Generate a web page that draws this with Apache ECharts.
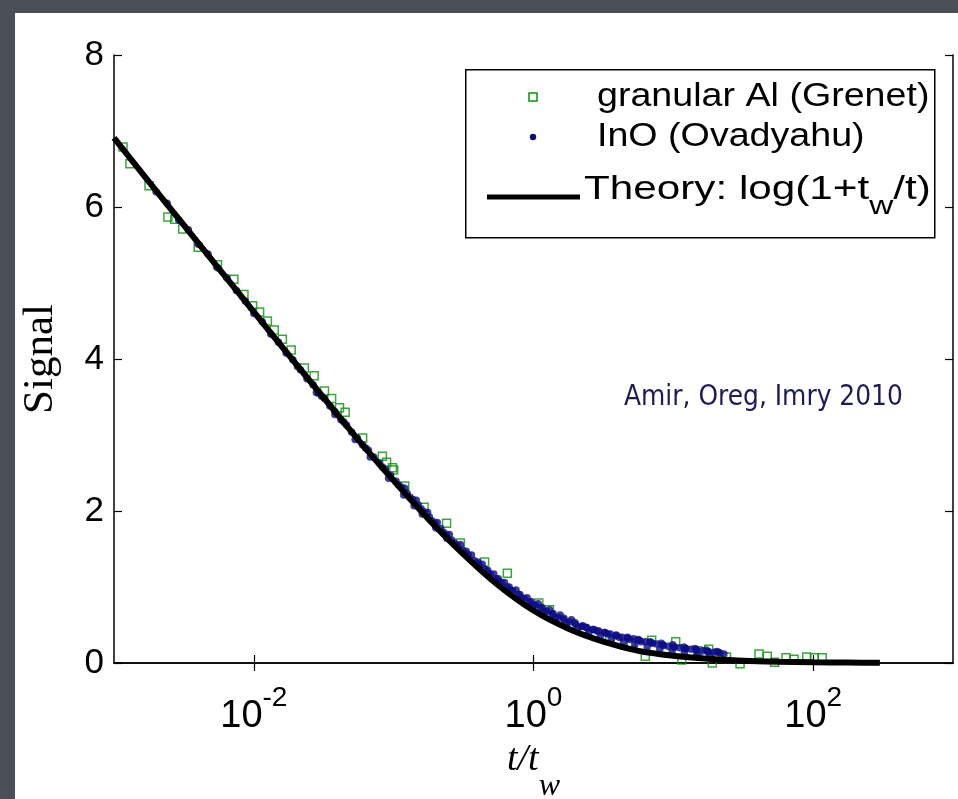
<!DOCTYPE html>
<html><head><meta charset="utf-8">
<script src="https://cdn.jsdelivr.net/npm/echarts@6/dist/echarts.min.js"></script>
<style>
html,body{margin:0;padding:0;width:958px;height:799px;background:#4b5058;overflow:hidden;}
#panel{position:absolute;left:15px;top:13px;width:943px;height:786px;background:#fff;}
#chart{position:absolute;left:0;top:0;width:958px;height:799px;}
</style></head>
<body>
<div id="panel"></div>
<div id="chart"></div>
<script>
// granular Al (Grenet): [t/tw, signal]
const grenetX = [0.00116,0.0013,0.00178,0.00243,0.00272,0.0031,0.004,0.0055,0.0072,0.0085,0.0098,0.011,0.0125,0.014,0.016,0.0185,0.023,0.027,0.032,0.036,0.041,0.045,0.06,0.083,0.089,0.098,0.1,0.12,0.165,0.239,0.3,0.447,0.65,1.09,1.3,2.3,3.5,5.0,6.3,7.0,10.4,11.5,15,17.9,19,24,30,41,47,53,64,73,90,102,116];
const grenetY = [6.79,6.57,6.28,5.87,5.84,5.71,5.47,5.24,5.05,4.85,4.70,4.62,4.50,4.38,4.26,4.12,3.88,3.78,3.58,3.48,3.36,3.30,2.96,2.72,2.64,2.57,2.54,2.33,2.05,1.84,1.58,1.33,1.18,0.79,0.70,0.45,0.32,0.26,0.09,0.30,0.28,0.04,0.16,0.18,0.00,0.08,-0.01,0.12,0.09,0.01,0.07,0.05,0.08,0.07,0.07];
// InO (Ovadyahu)
const ovadX = [0.002,0.0024,0.0029,0.0034,0.004,0.0047,0.0055,0.0064,0.0075,0.0087,0.01,0.0115,0.0132,0.015,0.017,0.019,0.0215,0.024,0.0265,0.029,0.032,0.035,0.038,0.042,0.046,0.05,0.055,0.06,0.066,0.072,0.079,0.087,0.095,0.104,0.114,0.125,0.137,0.15,0.165,0.18,0.198,0.217,0.238,0.26,0.285,0.312,0.342,0.375,0.41,0.45,0.49,0.54,0.59,0.65,0.71,0.78,0.86,0.94,1.03,1.13,1.24,1.36,1.5,1.65,1.81,2.0,2.2,2.42,2.66,2.93,3.22,3.54,3.9,4.3,4.7,5.2,5.7,6.3,6.9,7.6,8.4,9.2,10.1,11.1,12.2,13.4,14.7,16.2,17.8,19.6,21.5,
 0.0205,0.0305,0.044,0.063,0.083,0.109,0.131,0.157,0.189,0.227,0.272,0.327,0.393,0.47,0.565,0.68,0.82,0.99,1.19,1.43,1.72,2.07,2.49,3.0,3.6,4.4,5.3,6.5,8.0,9.8,12.0,14.8,18.2,
 0.12,0.145,0.175,0.205,0.25,0.30,0.36,0.43,0.52,0.62,0.75,0.90,1.08,1.30,1.55,1.87,2.25,2.7,3.25,3.9,4.7,5.6,6.8,8.2,9.9,11.9,14.3,17.2,20.5,23.0,
 0.028,0.038,0.053,0.068,0.092,0.118,0.14,0.16,0.2,0.24,
 0.33,0.40,0.47,0.56,0.67,0.80,0.96,1.15,1.38,1.65,1.98,2.37,2.85,3.4,4.1,4.9,5.9,7.1,8.5,10.2,12.3,14.7,17.6,21.0];
const ovadY = [6.20,6.05,5.83,5.70,5.51,5.38,5.20,5.07,4.90,4.76,4.60,4.49,4.33,4.22,4.08,3.99,3.86,3.74,3.66,3.55,3.48,3.38,3.31,3.20,3.13,3.04,2.96,2.87,2.80,2.71,2.63,2.55,2.47,2.39,2.31,2.23,2.15,2.08,1.99,1.92,1.84,1.77,1.69,1.62,1.55,1.48,1.42,1.35,1.29,1.23,1.17,1.11,1.06,1.00,0.95,0.90,0.85,0.80,0.76,0.72,0.68,0.64,0.60,0.57,0.54,0.51,0.48,0.46,0.44,0.42,0.40,0.38,0.36,0.34,0.33,0.32,0.30,0.28,0.27,0.25,0.24,0.22,0.21,0.20,0.19,0.18,0.17,0.16,0.15,0.14,0.13,
 3.90,3.51,3.17,2.83,2.58,2.34,2.18,2.03,1.87,1.72,1.58,1.44,1.31,1.19,1.07,0.96,0.86,0.76,0.67,0.59,0.52,0.46,0.40,0.35,0.31,0.27,0.24,0.21,0.18,0.16,0.14,0.12,0.11,
 2.30,2.14,1.98,1.85,1.69,1.56,1.42,1.30,1.17,1.06,0.96,0.86,0.78,0.70,0.63,0.57,0.49,0.44,0.40,0.37,0.34,0.31,0.28,0.26,0.24,0.21,0.19,0.17,0.15,0.12,
 3.56,3.27,2.94,2.71,2.43,2.21,2.07,1.96,1.78,1.64,
 1.47,1.33,1.22,1.11,1.00,0.90,0.81,0.73,0.65,0.59,0.53,0.47,0.42,0.38,0.34,0.31,0.28,0.26,0.23,0.21,0.19,0.17,0.15,0.14];
// Theory: log(1+tw/t)
const theoryX = [0.001,0.00178,0.00316,0.00562,0.01,0.0178,0.0316,0.0562,0.1,0.178,0.316,0.562,1,1.78,3.16,5.62,10,17.8,31.6,56.2,100,178,300];
const theoryY = [6.91,6.33,5.76,5.19,4.62,4.05,3.49,2.93,2.40,1.89,1.43,1.02,0.69,0.45,0.28,0.16,0.095,0.055,0.031,0.018,0.010,0.006,0.003];
const xTicks = [0.01,1,100];
const yTicks = [0,2,4,6,8];

const zip = (a,b)=>a.map((v,i)=>[v,b[i]]);
const sans = 'Liberation Sans, Arial, Helvetica, sans-serif';
const serif = 'Liberation Serif, Times New Roman, serif';
const GREEN = '#0b900b', NAVY = '#0c0c84';

const chart = echarts.init(document.getElementById('chart'));
const xBase = {
  type:'log', logBase:10, min:0.001, max:1000,
  axisLine:{show:true,lineStyle:{color:'#000',width:1.5}},
  axisTick:{show:true,inside:true,length:8,lineStyle:{color:'#000',width:1.2},customValues:xTicks},
  splitLine:{show:false}, minorTick:{show:false}
};
const yBase = {
  type:'value', min:0, max:8, interval:2,
  axisLine:{show:true,lineStyle:{color:'#000',width:1.5}},
  axisTick:{show:true,inside:true,length:8,lineStyle:{color:'#000',width:1.2}},
  splitLine:{show:false}
};
chart.setOption({
  animation:false,
  backgroundColor:'transparent',
  grid:{left:114,right:5,top:55,bottom:136,containLabel:false,outerBoundsMode:'none'},
  xAxis:[
    Object.assign({}, xBase, {position:'bottom',
      name:'{i|t/t}{w|w}', nameLocation:'middle', nameGap:44,
      nameTextStyle:{rich:{
        i:{fontFamily:serif,fontStyle:'italic',fontSize:38,color:'#000'},
        w:{fontFamily:serif,fontStyle:'italic',fontSize:32,color:'#000',padding:[54,0,0,0]}
      }},
      axisLabel:{show:true,margin:21,customValues:xTicks,
        formatter:v=>'{b|10}{s|'+Math.round(Math.log10(v))+'}',
        rich:{b:{fontFamily:sans,fontSize:38,color:'#000'},
              s:{fontFamily:sans,fontSize:28,color:'#000',padding:[0,0,38,0]}}}
    }),
    Object.assign({}, xBase, {position:'top', axisLabel:{show:false}})
  ],
  yAxis:[
    Object.assign({}, yBase, {position:'left',
      name:'Signal', nameLocation:'middle', nameGap:52,
      nameTextStyle:{fontFamily:serif,fontSize:43,color:'#000'},
      axisLabel:{show:true,margin:10,fontFamily:sans,fontSize:35,color:'#000'}}),
    Object.assign({}, yBase, {position:'right', axisLabel:{show:false}})
  ],
  series:[
    {name:'granular Al (Grenet)', type:'scatter', data:zip(grenetX,grenetY), clip:false,
     symbol:'rect', symbolSize:8, z:2,
     itemStyle:{color:'rgba(0,0,0,0)',borderColor:GREEN,borderWidth:1.5}},
    {name:'InO (Ovadyahu)', type:'scatter', data:zip(ovadX,ovadY), clip:false,
     symbol:'circle', symbolSize:7.5, z:3,
     itemStyle:{color:NAVY}},
    {name:'Theory: log(1+t_w/t)', type:'line', data:zip(theoryX,theoryY), smooth:0.3,
     showSymbol:false, symbol:'none', z:4,
     lineStyle:{color:'#000',width:6}}
  ],
  graphic:[
    {type:'rect', left:465, top:69, z:50, shape:{width:469,height:168},
     style:{fill:'#fff',stroke:'#000',lineWidth:1.5}},
    {type:'rect', x:529, y:93, z:51, shape:{width:8,height:8},
     style:{fill:'none',stroke:GREEN,lineWidth:1.5}},
    {type:'text', x:597, y:97, z:51, scaleX:1.14, style:{text:'granular Al (Grenet)',font:'33px '+sans,fill:'#000',textVerticalAlign:'middle'}},
    {type:'circle', x:533, y:137, z:51, shape:{r:3.2}, style:{fill:NAVY}},
    {type:'text', x:597, y:137, z:51, scaleX:1.14, style:{text:'InO (Ovadyahu)',font:'33px '+sans,fill:'#000',textVerticalAlign:'middle'}},
    {type:'line', z:51, shape:{x1:487,y1:197,x2:580,y2:197}, style:{stroke:'#000',lineWidth:5}},
    {type:'text', x:584, y:190, z:51, scaleX:1.28, style:{
      text:'{a|Theory: log(1+t}{b|w}{a|/t)}',
      rich:{a:{font:'33px '+sans,fill:'#000'},b:{font:'26px '+sans,fill:'#000',padding:[34,0,0,0]}},
      fill:'#000',textVerticalAlign:'middle'}},
    {type:'text', x:624, y:397, z:51, scaleX:0.86, style:{text:'Amir, Oreg, Imry 2010',font:'29px DejaVu Sans, sans-serif',fill:'#1e1c55',textVerticalAlign:'middle'}}
  ]
});
</script>
</body></html>
